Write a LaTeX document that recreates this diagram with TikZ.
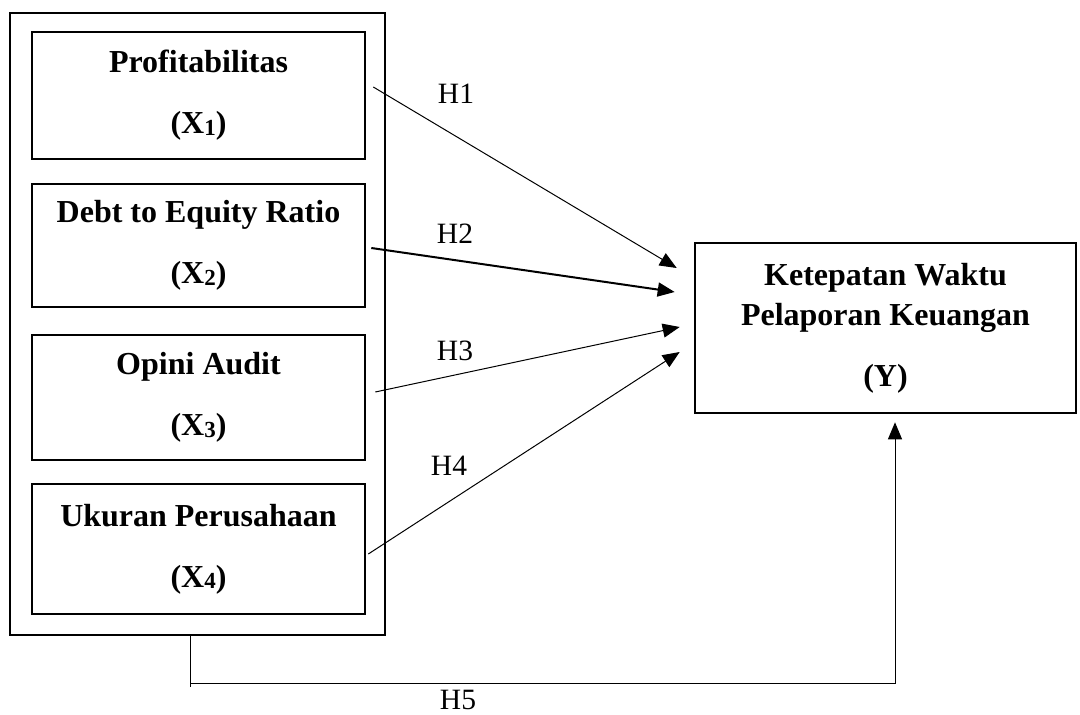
\documentclass[tikz,border=0pt]{standalone}
\usepackage{fontspec}
\setmainfont{Liberation Serif}
\usetikzlibrary{arrows.meta,calc}
\newcommand{\subdig}[1]{\raisebox{-1.5pt}{\fontsize{23}{23}\selectfont #1}}
\begin{document}
\begin{tikzpicture}[x=1pt,y=-1pt,
  varbox/.style={draw,line width=2.6pt,minimum width=333pt,inner sep=0pt,align=center,font=\fontsize{32}{37}\selectfont\bfseries},
  ybox/.style={draw,line width=2.6pt,minimum width=381pt,minimum height=170pt,inner sep=0pt,align=center,font=\fontsize{32}{40}\selectfont\bfseries},
  outerbox/.style={draw,line width=2.6pt,minimum width=375pt,minimum height=622pt,inner sep=0pt},
  arr/.style={line width=1pt,-{Triangle[length=17pt,width=14pt]}},
  hlab/.style={font=\fontsize{29.5}{31}\selectfont,inner sep=0pt}]
\useasboundingbox (0,0) rectangle (1080,715);
\node[outerbox] (outer) at (197.5,324) {};
\node[varbox,minimum height=127pt] (b1) at (198.5,95.5) {Profitabilitas\\[24pt](X\subdig{1})};
\node[varbox,minimum height=123pt] (b2) at (198.5,245.5) {Debt to Equity Ratio\\[24pt](X\subdig{2})};
\node[varbox,minimum height=125pt] (b3) at (198.5,397.5) {Opini Audit\\[24pt](X\subdig{3})};
\node[varbox,minimum height=130pt] (b4) at (198.5,549) {Ukuran Perusahaan\\[24pt](X\subdig{4})};
\node[ybox] (Y) at (885.5,328) {Ketepatan Waktu\\Pelaporan Keuangan\\[21pt](Y)};
\draw[arr] ([xshift=7pt,yshift=8.5pt]b1.east) -- ([xshift=-17pt,yshift=60pt]Y.west);
\draw[arr,line width=2pt] ([xshift=5pt,yshift=-2.5pt]b2.east) -- ([xshift=-19pt,yshift=36pt]Y.west);
\draw[arr] ([xshift=9pt,yshift=5.5pt]b3.east) -- ([xshift=-14pt,yshift=1pt]Y.west);
\draw[arr] ([xshift=2pt,yshift=-5pt]b4.east) -- ([xshift=-14pt,yshift=-24pt]Y.west);
\coordinate (c5) at ([xshift=-7.5pt]outer.south);
\draw[line width=1pt] (c5) -- ++(0,51);
\draw[arr] ([yshift=-47pt]c5) -| ([xshift=9.5pt,yshift=-8pt]Y.south);
\node[hlab] (h1) at (456,94) {H1};
\node[hlab] (h2) at (455,234) {H2};
\node[hlab] (h3) at (455,351) {H3};
\node[hlab] (h4) at (449,466) {H4};
\node[hlab] (h5) at (458,700) {H5};
\end{tikzpicture}
\end{document}
